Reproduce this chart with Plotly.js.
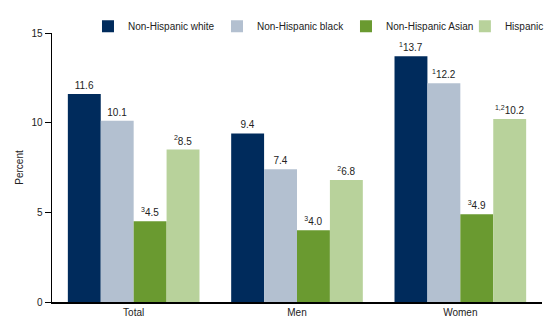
<!DOCTYPE html>
<html><head><meta charset="utf-8">
<script src="https://cdn.plot.ly/plotly-3.0.1.min.js"></script>
<style>html,body{margin:0;padding:0;background:#fff}#chart{width:560px;height:334px}</style>
</head><body><div id="chart"></div>
<script>
const categories = ["Total", "Men", "Women"];
const seriesNames = ["Non-Hispanic white", "Non-Hispanic black", "Non-Hispanic Asian", "Hispanic"];
const white = [11.6, 9.4, 13.7];
const black = [10.1, 7.4, 12.2];
const asian = [4.5, 4.0, 4.9];
const hispanic = [8.5, 6.8, 10.2];
const whiteNotes = ["", "", "1"];
const blackNotes = ["", "", "1"];
const asianNotes = ["3", "3", "3"];
const hispanicNotes = ["2", "2", "1,2"];
const yTicks = [0, 5, 10, 15];
const colors = ["#002b5c", "#b3c0d0", "#6a9a30", "#b8d29b"];

const values = [white, black, asian, hispanic];
const notes = [whiteNotes, blackNotes, asianNotes, hispanicNotes];
const legendIds = ["legend", "legend", "legend", "legend2"];
const traces = values.map((v, i) => ({
  type: "bar", name: seriesNames[i], x: categories, y: v, legend: legendIds[i],
  marker: {color: colors[i], line: {width: 0}},
  text: v.map((val, j) => (notes[i][j] ? "<sup>" + notes[i][j] + "</sup>" : "") + val.toFixed(1)),
  textposition: "outside", cliponaxis: false,
  textfont: {family: "Liberation Sans, Arial, sans-serif", size: 10, color: "#222"},
  hoverinfo: "none"
}));

const legendBase = {orientation: "h", y: 1.025, yanchor: "middle",
  font: {size: 10, color: "#222"}, traceorder: "normal", itemwidth: 30,
  tracegroupgap: 0, bgcolor: "rgba(0,0,0,0)"};

const layout = {
  width: 560, height: 334,
  margin: {l: 52, r: 17, t: 33, b: 32},
  barmode: "group", bargap: 0.194, bargroupgap: 0,
  font: {family: "Liberation Sans, Arial, sans-serif", size: 10, color: "#222"},
  showlegend: true,
  legend: Object.assign({}, legendBase, {x: 0.0733, xanchor: "left", entrywidth: 84}),
  legend2: Object.assign({}, legendBase, {x: 1.012, xanchor: "right"}),
  xaxis: {showline: true, linecolor: "#000", linewidth: 1.5, ticks: "", tickfont: {size: 10},
          range: [-0.5, 2.5], fixedrange: true, automargin: false},
  yaxis: {range: [0, 15], tickvals: yTicks, showgrid: false, zeroline: false,
          showline: true, linecolor: "#000", linewidth: 1.5, ticks: "outside", ticklen: 6,
          tickcolor: "#000", tickfont: {size: 10}, automargin: false,
          title: {text: "Percent", font: {size: 10}, standoff: 6}},
  plot_bgcolor: "#fff", paper_bgcolor: "#fff"
};
Plotly.newPlot("chart", traces, layout, {displayModeBar: false, staticPlot: true});
</script></body></html>
